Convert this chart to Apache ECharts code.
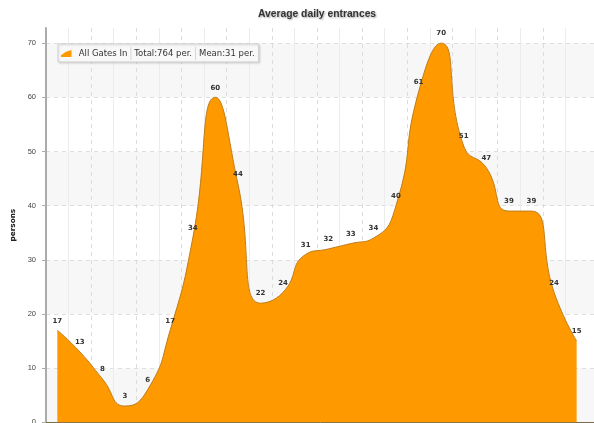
<!DOCTYPE html>
<html>
<head>
<meta charset="utf-8">
<script src="https://cdn.jsdelivr.net/npm/echarts@6/dist/echarts.min.js"></script>
<style>html,body{margin:0;padding:0;background:#fff}#c{width:594px;height:423px}</style>
</head>
<body>
<div id="c"></div>
<script>
const categories = ['00','01','02','03','04','05','06','07','08','09','10','11','12','13','14','15','16','17','18','19','20','21','22','23'];
const entrances = [17, 13, 8, 3, 6, 17, 34, 60, 44, 22, 24, 31, 32, 33, 34, 40, 61, 70, 51, 47, 39, 39, 24, 15];
const yTicks = [0, 10, 20, 30, 40, 50, 60, 70];
const seriesName = 'All Gates In';
const titleText = 'Average daily entrances';
const yName = 'persons';

const total = entrances.reduce((a, b) => a + b, 0);
const mean = Math.floor(total / entrances.length);

const chart = echarts.init(document.getElementById('c'), null, {renderer: 'canvas'});
const hLineColors = yTicks.map(() => '#dedede').concat(['rgba(0,0,0,0)']);

chart.setOption({
  animation: false,
  backgroundColor: '#fff',
  title: {
    text: titleText,
    left: 258, top: 9, padding: 0,
    textStyle: {
      fontFamily: 'Liberation Sans', fontSize: 10.3, fontWeight: 'bold', color: '#333',
      textShadowColor: 'rgba(0,0,0,0.35)', textShadowBlur: 2, textShadowOffsetX: 1, textShadowOffsetY: 1
    }
  },
  legend: {
    left: 58, top: 44,
    padding: [3, 4, 2, 3],
    backgroundColor: '#f8f8f8',
    borderColor: '#cfcfcf', borderWidth: 1,
    shadowColor: 'rgba(0,0,0,0.12)', shadowBlur: 2, shadowOffsetX: 1, shadowOffsetY: 1,
    itemWidth: 15, itemHeight: 7,
    data: [{
      name: seriesName,
      icon: 'path://M0,10L0,7C3,6 5,3 8,2L15,0L15,10Z',
      itemStyle: {color: '#ff9900', borderWidth: 0}
    }],
    formatter: function (name) {
      return '{a|' + name + '}{s|}{b|Total:' + total + ' per.}{s|}{c|Mean:' + mean + ' per.}';
    },
    textStyle: {
      fontFamily: 'DejaVu Sans', fontSize: 8.5, color: '#333',
      rich: {
        a: {fontFamily: 'DejaVu Sans', fontSize: 8.5, color: '#333', padding: [0, 3, 0, 0]},
        b: {fontFamily: 'DejaVu Sans', fontSize: 8.5, color: '#333', padding: [0, 3, 0, 3]},
        c: {fontFamily: 'DejaVu Sans', fontSize: 8.5, color: '#333', padding: [0, 0, 0, 3]},
        s: {width: 1, height: 13, backgroundColor: '#d6d6d6'}
      }
    }
  },
  grid: {left: 46, top: 28, width: 564.5, height: 394.3, containLabel: false, outerBoundsMode: 'none'},
  xAxis: [{
    type: 'category',
    data: categories,
    max: categories.length,
    boundaryGap: true,
    axisLine: {show: true, lineStyle: {color: '#7a6a50', width: 1}},
    axisTick: {show: false},
    axisLabel: {show: false},
    splitLine: {show: true, interval: (i) => i % 2 === 1 && i < categories.length, lineStyle: {color: '#ececec', type: 'solid', width: 1}}
  }, {
    type: 'category',
    data: categories,
    max: categories.length,
    boundaryGap: true,
    position: 'bottom',
    axisLine: {show: false},
    axisTick: {show: false},
    axisLabel: {show: false},
    splitLine: {show: true, interval: (i) => i % 2 === 0 && i < categories.length, lineStyle: {color: '#dcdcdc', type: [4, 4], width: 1}}
  }],
  yAxis: {
    type: 'value',
    min: 0, max: 72.8, interval: 10,
    name: yName,
    nameLocation: 'middle', nameRotate: 90, nameGap: 27,
    nameTextStyle: {fontFamily: 'DejaVu Sans', fontSize: 7.3, fontWeight: 'bold', color: '#222'},
    axisLine: {show: true, lineStyle: {color: '#ababab', width: 2}},
    axisTick: {show: true, length: 4, lineStyle: {color: '#ababab'}},
    axisLabel: {show: true, margin: 10, fontFamily: 'Liberation Sans', fontSize: 7.5, color: '#444', showMaxLabel: false},
    splitLine: {show: true, lineStyle: {color: hLineColors, type: [4, 4], width: 1}},
    splitArea: {show: true, areaStyle: {color: ['#f7f7f7', '#ffffff']}}
  },
  series: [{
    name: seriesName,
    type: 'line',
    data: entrances,
    smooth: 0.55,
    symbol: 'circle', symbolSize: 2, showSymbol: true,
    itemStyle: {color: 'rgba(0,0,0,0)', borderWidth: 0},
    lineStyle: {color: '#bf7d1a', width: 1},
    areaStyle: {color: '#ff9900', opacity: 1},
    label: {show: true, position: 'top', distance: 5, fontFamily: 'DejaVu Sans', fontSize: 7, fontWeight: 'bold', color: '#333'},
    emphasis: {disabled: true},
    z: 3
  }]
});
</script>
</body>
</html>
